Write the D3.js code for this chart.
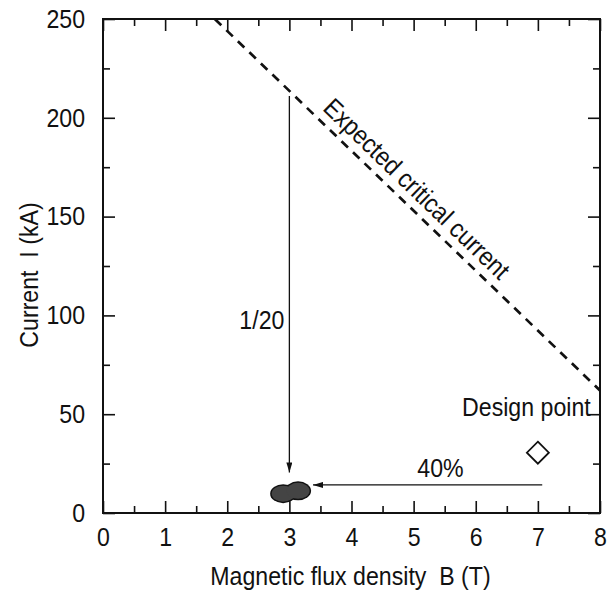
<!DOCTYPE html>
<html>
<head>
<meta charset="utf-8">
<script src="https://cdn.jsdelivr.net/npm/d3@7"></script>
<style>
  body { margin: 0; background: #fff; }
  text { font-family: "Liberation Sans", Arial, Helvetica, sans-serif; fill: #111; }
</style>
</head>
<body>
<div id="chart"></div>
<script>
"use strict";

// axis ticks
var xMajor = [0, 1, 2, 3, 4, 5, 6, 7, 8];
var xMinor = [0.5, 1.5, 2.5, 3.5, 4.5, 5.5, 6.5, 7.5];
var yMajor = [0, 50, 100, 150, 200, 250];
var yMinor = [25, 75, 125, 175, 225];

// expected critical current (dashed line), B in T, I in kA
var criticalB = [1.8, 8];
var criticalI = [250, 62];

// measured points (the dark blob)
var blobB = [2.9, 3.14];
var blobI = [9.8, 11.2];

// design point
var designB = [7];
var designI = [30.5];

// arrows: [B start, I start, B end, I end]
var arrowDown = [3, 211, 3, 20.5];
var arrowLeft = [7.07, 14.2, 3.38, 14.2];

var width = 616, height = 596;
var margin = {top: 19, right: 16, bottom: 83, left: 103};
var fontSize = "26px";
var sx = 0.89;   // the original lettering is a narrow sans

var svg = d3.select("#chart").append("svg")
    .attr("width", width)
    .attr("height", height);

var x = d3.scaleLinear().domain([0, 8]).range([margin.left, width - margin.right]);
var y = d3.scaleLinear().domain([0, 250]).range([height - margin.bottom, margin.top]);

var defs = svg.append("defs");
defs.append("marker")
    .attr("id", "head")
    .attr("viewBox", "0 0 10 6")
    .attr("refX", 10).attr("refY", 3)
    .attr("markerWidth", 11).attr("markerHeight", 6)
    .attr("markerUnits", "userSpaceOnUse")
    .attr("orient", "auto")
  .append("path")
    .attr("d", "M0,0L10,3L0,6Z")
    .attr("fill", "#111");

defs.append("clipPath").attr("id", "plot")
  .append("rect")
    .attr("x", x(0)).attr("y", y(250))
    .attr("width", x(8) - x(0)).attr("height", y(0) - y(250));

// plain text helper, squeezed horizontally
function label(px, py, str, anchor, rot) {
    return svg.append("text")
        .attr("transform", "translate(" + px + "," + py + ")" +
              (rot ? " rotate(" + rot + ")" : "") + " scale(" + sx + ",1)")
        .attr("text-anchor", anchor || "start")
        .style("font-size", fontSize)
        .text(str);
}

// --- axes (ticks point inward) ---
function styleAxis(g) {
    g.select(".domain").remove();
    g.selectAll(".tick line").attr("stroke", "#111").attr("stroke-width", 1.6);
    g.selectAll(".tick text")
        .style("font-size", fontSize)
        .attr("fill", "#111")
        .attr("transform", "scale(" + sx + ",1)");
}

svg.append("g")
    .attr("transform", "translate(0," + y(0) + ")")
    .call(d3.axisBottom(x).tickValues(xMajor).tickSize(-12).tickPadding(15).tickFormat(d3.format("d")))
    .call(styleAxis);
svg.append("g")
    .attr("transform", "translate(0," + y(0) + ")")
    .call(d3.axisBottom(x).tickValues(xMinor).tickSize(-7).tickFormat(""))
    .call(styleAxis);
svg.append("g")
    .attr("transform", "translate(0," + y(250) + ")")
    .call(d3.axisTop(x).tickValues(xMajor).tickSize(-12).tickFormat(""))
    .call(styleAxis);
svg.append("g")
    .attr("transform", "translate(0," + y(250) + ")")
    .call(d3.axisTop(x).tickValues(xMinor).tickSize(-7).tickFormat(""))
    .call(styleAxis);

svg.append("g")
    .attr("transform", "translate(" + x(0) + ",0)")
    .call(d3.axisLeft(y).tickValues(yMajor).tickSize(-12).tickPadding(18 / sx).tickFormat(d3.format("d")))
    .call(styleAxis);
svg.append("g")
    .attr("transform", "translate(" + x(0) + ",0)")
    .call(d3.axisLeft(y).tickValues(yMinor).tickSize(-7).tickFormat(""))
    .call(styleAxis);
svg.append("g")
    .attr("transform", "translate(" + x(8) + ",0)")
    .call(d3.axisRight(y).tickValues(yMajor).tickSize(-12).tickFormat(""))
    .call(styleAxis);
svg.append("g")
    .attr("transform", "translate(" + x(8) + ",0)")
    .call(d3.axisRight(y).tickValues(yMinor).tickSize(-7).tickFormat(""))
    .call(styleAxis);

// frame
svg.append("rect")
    .attr("x", x(0)).attr("y", y(250))
    .attr("width", x(8) - x(0)).attr("height", y(0) - y(250))
    .attr("fill", "none")
    .attr("stroke", "#111")
    .attr("stroke-width", 2);

// axis titles
label((x(0) + x(8)) / 2 - 1, 585, "Magnetic flux density\u00a0\u00a0B (T)", "middle");
label(38, 275, "Current\u00a0\u00a0I (kA)", "middle", -90);

// --- expected critical current ---
var critData = criticalB.map(function(b, i) { return {b: b, i: criticalI[i]}; });
var line = d3.line()
    .x(function(d) { return x(d.b); })
    .y(function(d) { return y(d.i); });

svg.append("path")
    .datum(critData)
    .attr("d", line)
    .attr("clip-path", "url(#plot)")
    .attr("fill", "none")
    .attr("stroke", "#111")
    .attr("stroke-width", 2.7)
    .attr("stroke-dasharray", "9,7");

// label along the line
var p0 = [x(criticalB[0]), y(criticalI[0])], p1 = [x(criticalB[1]), y(criticalI[1])];
var ang = Math.atan2(p1[1] - p0[1], p1[0] - p0[0]);
var t = (x(3.42) - p0[0]) / (p1[0] - p0[0]);
var lx = p0[0] + t * (p1[0] - p0[0]) + 9 * Math.sin(ang);
var ly = p0[1] + t * (p1[1] - p0[1]) - 9 * Math.cos(ang);
label(lx, ly, "Expected critical current", "start", ang * 180 / Math.PI);

// --- arrows ---
[arrowDown, arrowLeft].forEach(function(a) {
    svg.append("line")
        .attr("x1", x(a[0])).attr("y1", y(a[1]))
        .attr("x2", x(a[2])).attr("y2", y(a[3]))
        .attr("stroke", "#111")
        .attr("stroke-width", 1.3)
        .attr("marker-end", "url(#head)");
});

label(x(3) - 5, y(93), "1/20", "end");
label(x(5.06), y(18.3), "40%", "start");

// --- measured blob ---
var blob = blobB.map(function(b, i) { return {b: b, i: blobI[i]}; });
svg.selectAll(".blob-edge")
    .data(blob).enter().append("ellipse")
    .attr("cx", function(d) { return x(d.b); })
    .attr("cy", function(d) { return y(d.i); })
    .attr("rx", 13).attr("ry", 9.5)
    .attr("fill", "#111");
svg.selectAll(".blob-fill")
    .data(blob).enter().append("ellipse")
    .attr("cx", function(d) { return x(d.b); })
    .attr("cy", function(d) { return y(d.i); })
    .attr("rx", 11.5).attr("ry", 8)
    .attr("fill", "#444");

// --- design point ---
var design = designB.map(function(b, i) { return {b: b, i: designI[i]}; });
svg.selectAll(".design")
    .data(design).enter().append("path")
    .attr("transform", function(d) { return "translate(" + x(d.b) + "," + y(d.i) + ")"; })
    .attr("d", "M0,-11L11,0L0,11L-11,0Z")
    .attr("fill", "#fff")
    .attr("stroke", "#111")
    .attr("stroke-width", 1.8);

label(x(5.78), y(49), "Design point", "start");
</script>
</body>
</html>
